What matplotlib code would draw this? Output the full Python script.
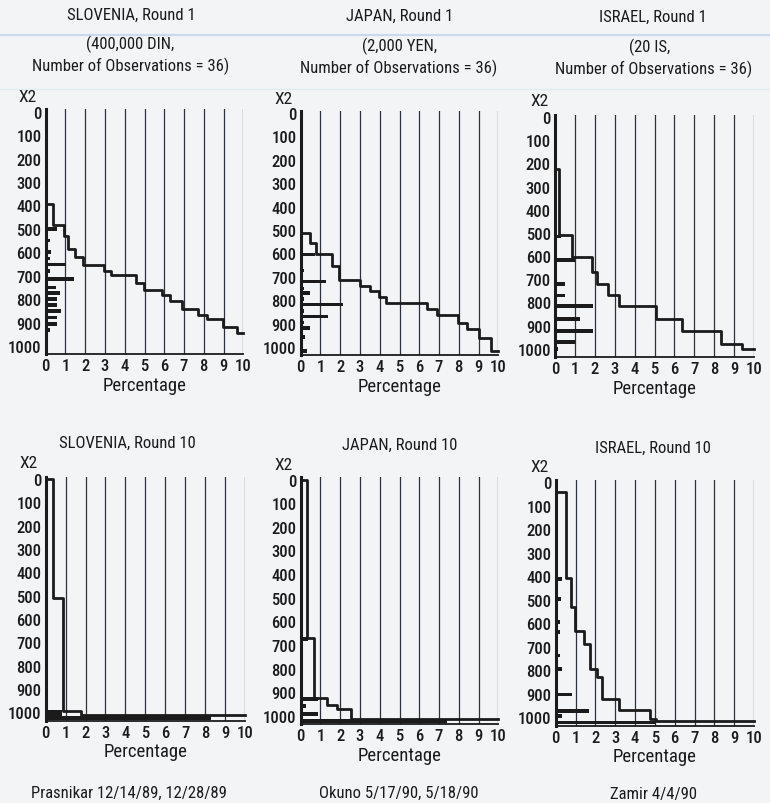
import matplotlib.pyplot as plt
from matplotlib.lines import Line2D

plt.rcParams['font.family'] = ['Liberation Sans Narrow', 'Roboto Condensed', 'Open Sans Condensed',
                               'Liberation Sans', 'DejaVu Sans']

# ---- data ----
# step curve: x breakpoints (len n+1) and y levels (len n)
slo1_step_x = [0, 0.39, 0.94, 1.15, 1.48, 1.9, 2.95, 3.3, 4.57, 4.99, 5.87, 6.29, 6.88, 7.72, 8.14, 8.99, 9.66, 10]
slo1_step_y = [395, 485, 530, 584, 622, 654, 680, 698, 729, 762, 782, 808, 843, 867, 886, 919, 945]
slo1_bar_y = [500, 550, 600, 627, 652, 680, 715, 750, 775, 800, 825, 852, 878, 905, 933]
slo1_bar_w = [0.55, 0.2, 0.25, 0.2, 1.05, 0.22, 1.42, 0.5, 0.7, 0.55, 0.55, 0.78, 0.55, 0.55, 0.2]

jpn1_step_x = [0, 0.45, 0.79, 1.58, 1.93, 3.0, 3.5, 3.98, 4.3, 6.37, 6.88, 7.94, 8.4, 9.02, 9.63, 10]
jpn1_step_y = [512, 557, 604, 652, 714, 738, 760, 786, 812, 836, 865, 897, 922, 960, 1015]
jpn1_bar_y = [500, 525, 605, 673, 720, 750, 770, 795, 818, 845, 870, 895, 920, 958, 1018]
jpn1_bar_w = [0.12, 0.12, 0.72, 0.17, 1.3, 0.15, 0.48, 0.18, 2.13, 0.18, 1.4, 0.18, 0.47, 0.22, 0.33]

isr1_step_x = [0, 0.22, 0.86, 1.86, 2.12, 2.64, 3.24, 5.06, 6.4, 8.33, 9.41, 10]
isr1_step_y = [224, 511, 605, 669, 720, 767, 816, 870, 924, 978, 1003]
isr1_bar_y = [516, 618, 672, 722, 770, 816, 871, 925, 972, 1000]
isr1_bar_w = [0.28, 1.0, 0.12, 0.48, 0.48, 1.93, 1.28, 1.93, 1.03, 0.16]

slo10_step_x = [0, 0.38, 0.85, 1.75, 10]
slo10_step_y = [0, 510, 993, 1012]
slo10_bar_y = [997, 1010, 1023]
slo10_bar_w = [0.82, 0.82, 8.3]

jpn10_step_x = [0, 0.34, 0.67, 1.35, 1.83, 2.57, 10]
jpn10_step_y = [0, 670, 925, 955, 972, 1012]
jpn10_bar_y = [675, 928, 960, 992, 1023]
jpn10_bar_w = [0.36, 0.9, 0.25, 0.88, 7.42]

isr10_step_x = [0, 0.53, 0.77, 0.98, 1.45, 1.74, 2.06, 2.36, 3.18, 4.78, 5.05, 10]
isr10_step_y = [43, 408, 531, 632, 689, 793, 828, 921, 969, 1006, 1014]
isr10_bar_y = [410, 495, 595, 636, 737, 794, 903, 974, 995, 1022]
isr10_bar_w = [0.3, 0.28, 0.24, 0.24, 0.2, 0.34, 0.82, 1.68, 0.3, 5.05]

xticks = list(range(11))
yticks = list(range(0, 1001, 100))

W, H = 770, 804
bg = '#f3f4f6'
ink = '#1b1b1b'
gridc = '#2c3140'

fig = plt.figure(figsize=(W / 100, H / 100), dpi=100)
fig.patch.set_facecolor(bg)

# faint scan streaks
fig.add_artist(Line2D([0, 1], [1 - 36 / H] * 2, color='#c9d9ee', lw=1.6))
fig.add_artist(Line2D([0, 1], [1 - 90 / H] * 2, color='#dcecf0', lw=1.0))


def px_axes(left, top, right, bottom):
    return fig.add_axes([left / W, 1 - bottom / H, (right - left) / W, (bottom - top) / H])


panels = [
    ((45.7, 110.4, 243.3, 355.2), slo1_step_x, slo1_step_y, slo1_bar_y, slo1_bar_w),
    ((300.7, 111.7, 498.3, 356.2), jpn1_step_x, jpn1_step_y, jpn1_bar_y, jpn1_bar_w),
    ((555.0, 115.7, 754.0, 357.8), isr1_step_x, isr1_step_y, isr1_bar_y, isr1_bar_w),
    ((45.7, 477.7, 245.0, 721.5), slo10_step_x, slo10_step_y, slo10_bar_y, slo10_bar_w),
    ((300.7, 478.3, 498.3, 725.0), jpn10_step_x, jpn10_step_y, jpn10_bar_y, jpn10_bar_w),
    ((555.7, 481.0, 754.0, 726.5), isr10_step_x, isr10_step_y, isr10_bar_y, isr10_bar_w),
]

for box, sx, sy, by, bw in panels:
    ax = px_axes(*box)
    ax.set_facecolor('none')
    ax.set_xlim(0, 10)
    ax.set_ylim(1035, -10)
    ax.set_xticks(xticks)
    ax.set_yticks(yticks)
    ax.tick_params(length=0, labelsize=12, pad=3, colors=ink)
    for t in ax.get_xticklabels() + ax.get_yticklabels():
        t.set_fontweight('medium')
    ax.spines['top'].set_visible(False)
    ax.spines['right'].set_visible(False)
    ax.spines['left'].set_linewidth(2.2)
    ax.spines['bottom'].set_linewidth(1.3)
    ax.spines['left'].set_color(ink)
    ax.spines['bottom'].set_color(ink)
    for xv in xticks[1:]:
        ax.axvline(xv, color=gridc, lw=0.9, zorder=1)
    ax.barh(by, bw, height=16, left=0, color=ink, zorder=3)
    ax.step(sx, sy + [sy[-1]], where='post', color=ink, lw=2.0, zorder=4, clip_on=False)
    ax.set_xlabel('Percentage', fontsize=13.5, labelpad=2, color=ink)


def label(x, y, s, size=12):
    fig.text(x / W, 1 - y / H, s, ha='center', va='center', fontsize=size, color=ink)


label(131, 15, 'SLOVENIA, Round 1')
label(130, 44, '(400,000 DIN,')
label(131, 66, 'Number of Observations = 36)')
label(400, 16, 'JAPAN, Round 1')
label(400, 46, '(2,000 YEN,')
label(399, 68, 'Number of Observations = 36)')
label(653, 17, 'ISRAEL, Round 1')
label(650, 47, '(20 IS,')
label(654, 69, 'Number of Observations = 36)')

label(127, 443, 'SLOVENIA, Round 10')
label(400, 445, 'JAPAN, Round 10')
label(653, 448, 'ISRAEL, Round 10')

for (x, y) in [(27, 98), (283, 99), (539, 101), (28, 464), (283, 466), (539, 468)]:
    label(x, y, 'X2', size=12.5)

label(129, 793, 'Prasnikar 12/14/89, 12/28/89')
label(399, 793, 'Okuno 5/17/90, 5/18/90')
label(653, 795, 'Zamir 4/4/90')

fig.savefig('out.png', dpi=100, facecolor=bg)
